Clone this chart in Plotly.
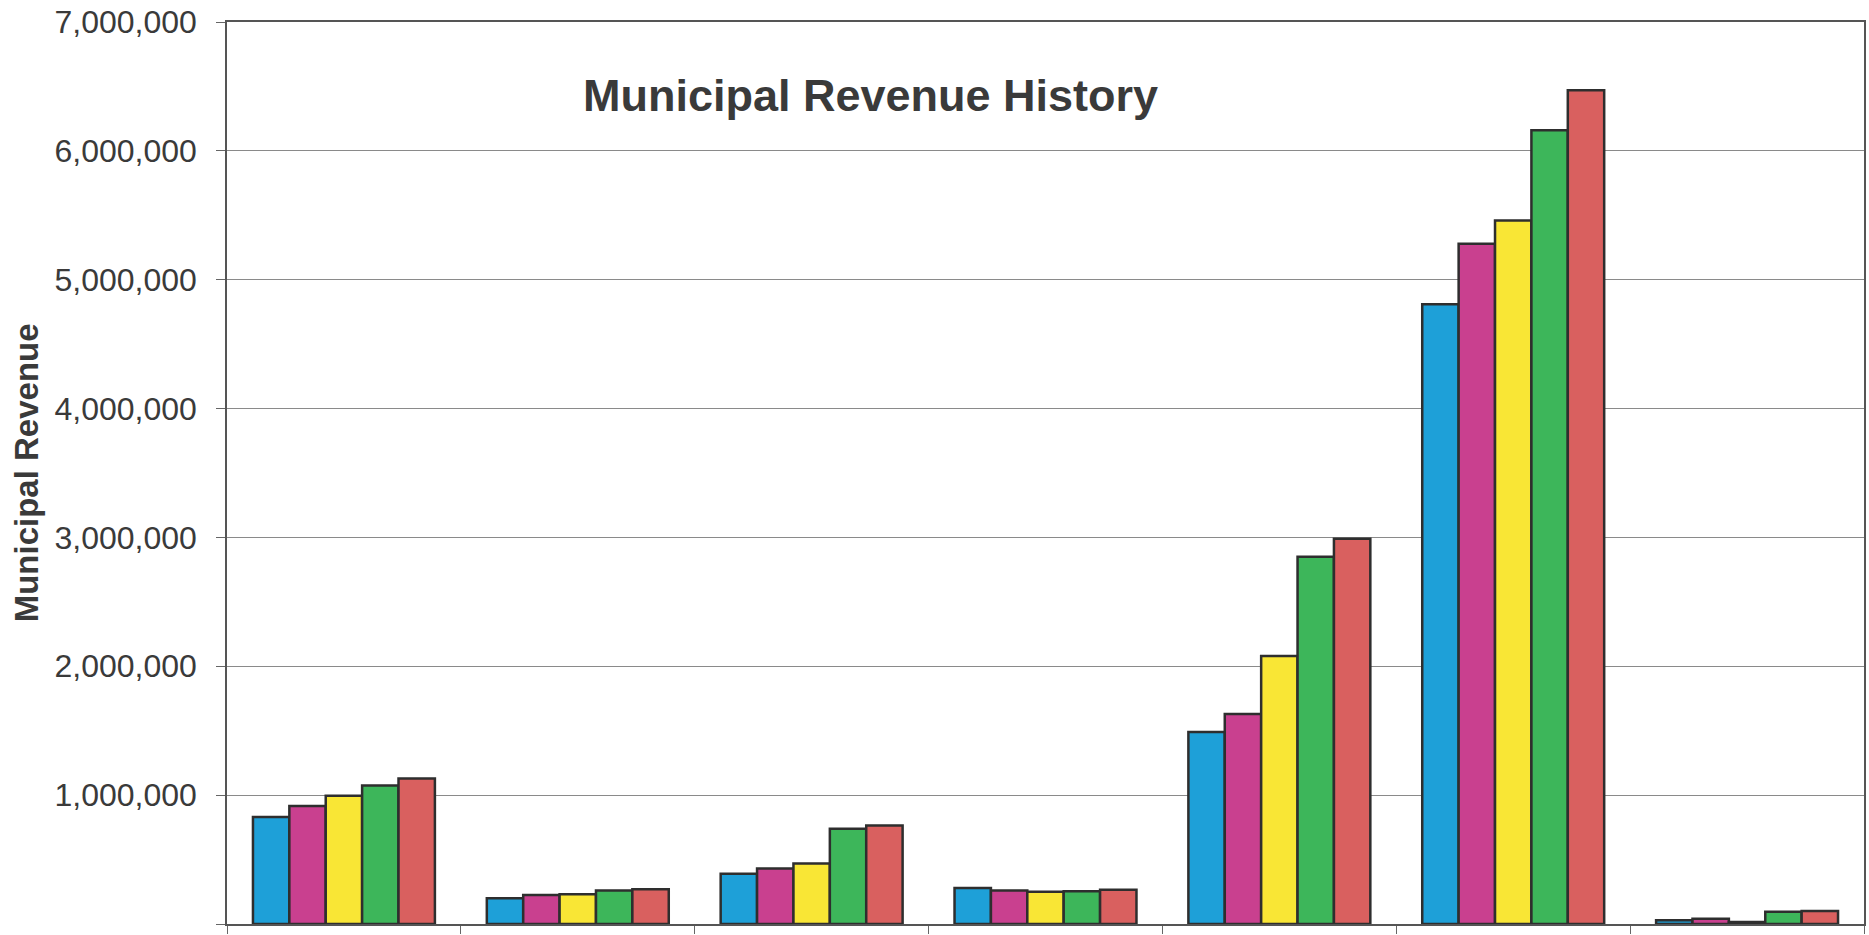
import plotly.graph_objects as go

# Revenue sources (groups along the x axis) and the five fiscal years shown per group
categories = ["Source A", "Source B", "Source C", "Source D", "Source E", "Source F", "Source G"]
series_names = ["Year 1", "Year 2", "Year 3", "Year 4", "Year 5"]

year1 = [830000, 200000, 390000, 280000, 1490000, 4810000, 30000]
year2 = [915000, 225000, 430000, 260000, 1630000, 5280000, 40000]
year3 = [995000, 230000, 470000, 250000, 2080000, 5460000, 15000]
year4 = [1075000, 260000, 740000, 255000, 2850000, 6160000, 95000]
year5 = [1130000, 270000, 765000, 265000, 2990000, 6470000, 100000]

series_values = [year1, year2, year3, year4, year5]
colors = ["#1ea0d8", "#c9408f", "#f9e635", "#3db65a", "#d9605f"]

y_ticks = [0, 1000000, 2000000, 3000000, 4000000, 5000000, 6000000, 7000000]

fig = go.Figure()
for name, vals, col in zip(series_names, series_values, colors):
    fig.add_trace(go.Bar(
        x=categories,
        y=vals,
        name=name,
        marker=dict(color=col, line=dict(color="#2e2e2e", width=2.5)),
    ))

fig.update_layout(
    width=1869,
    height=935,
    margin=dict(l=227, r=3, t=22, b=8),
    paper_bgcolor="white",
    plot_bgcolor="white",
    barmode="group",
    bargap=0.222,
    bargroupgap=0,
    showlegend=False,
    font=dict(family="Liberation Sans, Arial, sans-serif", color="#3a3a3a"),
)

fig.update_xaxes(
    showticklabels=False,
    tickson="boundaries",
    ticks="outside",
    ticklen=8,
    tickcolor="#666666",
    showline=True,
    linecolor="#555555",
    linewidth=1.5,
    mirror=True,
    showgrid=False,
)

fig.update_yaxes(
    range=[0, 7000000],
    tickvals=y_ticks,
    tickformat=",",
    tickfont=dict(size=32, color="#3a3a3a"),
    ticks="outside",
    ticklen=9,
    tickcolor="#666666",
    ticklabelstandoff=13,
    showline=True,
    linecolor="#555555",
    linewidth=1.5,
    mirror=True,
    showgrid=True,
    gridcolor="#8a8a8a",
    gridwidth=1,
    zeroline=False,
)

# Chart title placed inside the plotting area
fig.add_annotation(
    text="<b>Municipal Revenue History</b>",
    xref="paper", yref="paper",
    x=0.393, y=0.919,
    xanchor="center", yanchor="middle",
    showarrow=False,
    font=dict(family="Liberation Sans, Arial, sans-serif", size=45, color="#3a3a3a"),
)

# Vertical axis title
fig.add_annotation(
    text="<b>Municipal Revenue</b>",
    xref="paper", yref="paper",
    x=-0.1226, y=0.5,
    xanchor="center", yanchor="middle",
    textangle=-90,
    showarrow=False,
    font=dict(size=33, color="#3a3a3a"),
)

fig.write_html("out.html")
